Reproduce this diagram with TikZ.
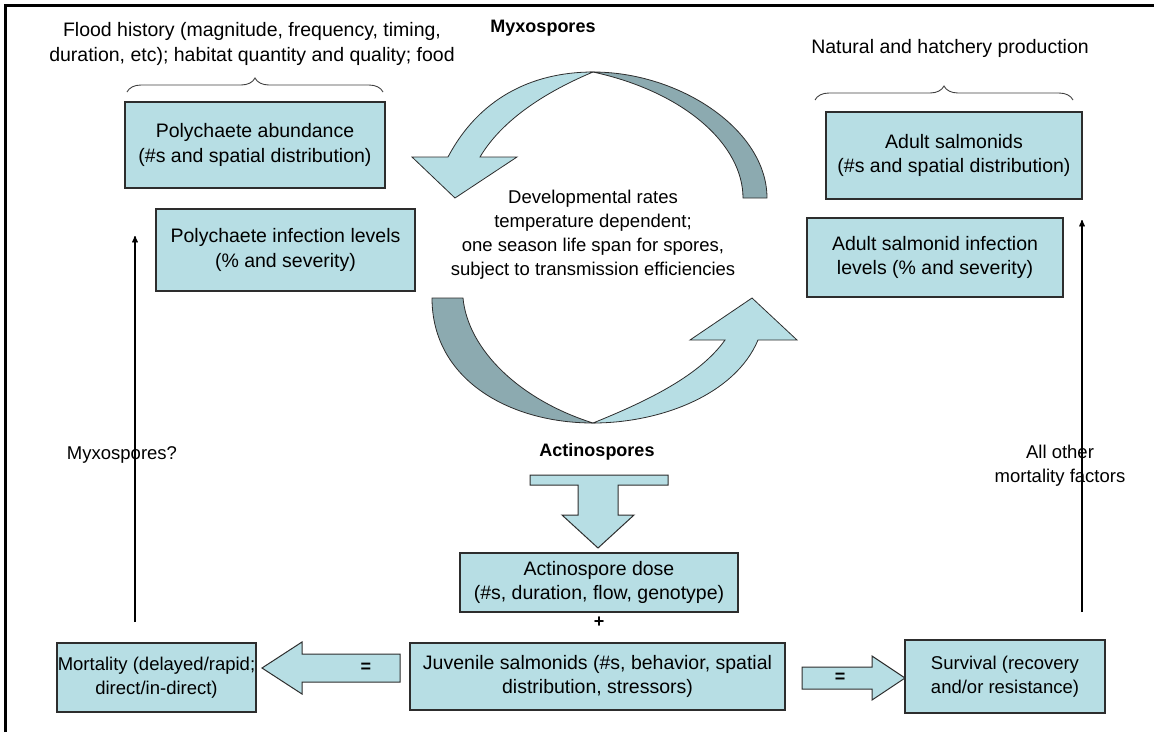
\documentclass[tikz,border=0pt]{standalone}
\usepackage{fontspec}
\setmainfont{Liberation Sans}
\usetikzlibrary{positioning,calc,arrows,decorations.pathreplacing}
\definecolor{boxblue}{RGB}{183,222,228}
\definecolor{bandgrey}{RGB}{140,170,176}
\definecolor{edgegrey}{RGB}{45,45,45}

\begin{document}
\begin{tikzpicture}[x=1pt,y=-1pt,>=stealth',
box node/.style={rectangle,draw=edgegrey,fill=boxblue,line width=1.2pt,align=center,font=\fontsize{19.5}{24.5}\selectfont,inner sep=0pt},
text node/.style={align=center,font=\fontsize{19.5}{24.5}\selectfont,inner sep=0pt},
small text/.style={font=\fontsize{18.5}{24}\selectfont},
spore node/.style={font=\fontsize{18}{22}\selectfont\bfseries,inner sep=0pt},
band/.style={draw=edgegrey,line width=0.8pt},
block arrow/.style={draw=edgegrey,fill=boxblue,line width=1pt},
brace line/.style={draw=black!75,line width=0.9pt,decorate,decoration={brace,amplitude=14pt}}]
\useasboundingbox (0,0) rectangle (1154,732);
% frame
  \draw[line width=3pt] (5,732) -- (5,5) -- (1154,5);
% boxes
  \node[box node,minimum width=260pt,minimum height=86pt] (pabund) at (255,145) {Polychaete abundance\\(\#s and spatial distribution)};
  \node[box node,minimum width=259pt,minimum height=82pt] (pinfect) at (285.5,250) {Polychaete infection levels\\(\% and severity)};
  \node[box node,minimum width=256pt,minimum height=87pt] (adult) at (954,155.5) {Adult salmonids\\(\#s and spatial distribution)};
  \node[box node,minimum width=256pt,minimum height=79pt] (ainfect) at (935,257.5) {Adult salmonid infection\\levels (\% and severity)};
  \node[box node,minimum width=278pt,minimum height=59pt] (dose) at (599,582.5) {Actinospore dose\\(\#s, duration, flow, genotype)};
  \node[box node,minimum width=375pt,minimum height=67pt] (juvenile) at (597.5,676.5) {Juvenile salmonids (\#s, behavior, spatial\\distribution, stressors)};
  \node[box node,small text,minimum width=199pt,minimum height=69pt] (mortality) at (156.5,677.5) {Mortality (delayed/rapid;\\direct/in-direct)};
  \node[box node,small text,minimum width=200pt,minimum height=73pt] (survival) at (1005,676.5) {Survival (recovery\\and/or resistance)};
% labels
  \node[text node] (flood) at (252,44) {Flood history (magnitude, frequency, timing,\\duration, etc); habitat quantity and quality; food};
  \node[text node] (natural) at (950,48) {Natural and hatchery production};
  \node[text node,small text] (rates) at (593,235) {Developmental rates\\temperature dependent;\\one season life span for spores,\\subject to transmission efficiencies};
  \node[spore node] (myxo) at (543,28) {Myxospores};
  \node[spore node] (actino) at (597,452) {Actinospores};
  \node[text node,small text] (myxoq) at (122,455) {Myxospores?};
  \node[text node,small text] (allother) at (1060,466) {All other\\mortality factors};
  \node[spore node] (plus) [below = 4pt of dose] {+};
% braces
  \draw[brace line] (127,92) -- (383,92);
  \draw[brace line] (815,100) -- (1073,100);
% curved arrows
  \fill[boxblue,band] (448,157) .. controls (478,100) and (530,72) .. (593,72)
    .. controls (555,88) and (505,115) .. (480,157) -- (517,157) -- (455,198) -- (412,157) -- cycle;
  \fill[bandgrey,band] (593,72) .. controls (680,72) and (767,130) .. (767,198) -- (743,198)
    .. controls (743,145) and (685,92) .. (593,72) -- cycle;
  \fill[bandgrey,band] (432,298) -- (463,298) .. controls (468,350) and (520,400) .. (593,423)
    .. controls (510,423) and (432,380) .. (432,298) -- cycle;
  \fill[boxblue,band] (593,423) .. controls (660,423) and (735,395) .. (758,340) -- (797,340) -- (752,298)
    -- (690,340) -- (725,340) .. controls (700,375) and (650,400) .. (593,423) -- cycle;
% block arrows
  \draw[block arrow] (530,475) -- (668,475) -- (668,485) -- (618,485) -- (618,515) -- (634,515) -- (598,548)
    -- (562,515) -- (578,515) -- (578,485) -- (530,485) -- cycle;
  \draw[block arrow] (262,668) -- (302,642) -- (302,654) -- (400,654) -- (400,682) -- (302,682) -- (302,694) -- cycle;
  \node[spore node] (eqleft) at (366,668) {=};
  \draw[block arrow] (905,678) -- (872,656) -- (872,667) -- (802,667) -- (802,689) -- (872,689) -- (872,700) -- cycle;
  \node[spore node] (eqright) at (840,678) {=};
% feedback lines
  \coordinate (myxbot) at (135,622);
  \coordinate (myxtop) at (135,236);
  \coordinate (allbot) at (1082,612);
  \coordinate (alltop) at (1082,220);
  \draw[->,line width=1.3pt] (myxbot) -- (myxtop);
  \draw[->,line width=1.3pt] (allbot) -- (alltop);
\end{tikzpicture}
\end{document}
